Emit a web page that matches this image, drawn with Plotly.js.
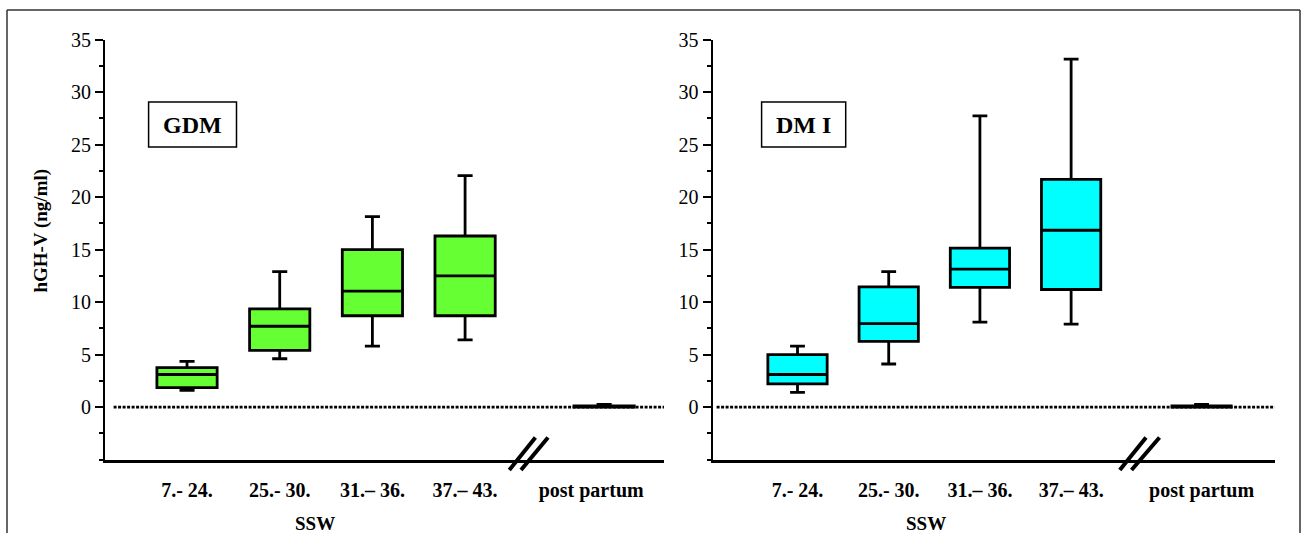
<!DOCTYPE html>
<html><head><meta charset="utf-8">
<script src="https://cdn.plot.ly/plotly-3.0.1.min.js"></script>
<style>html,body{margin:0;padding:0;background:#fff}#chart{width:1303px;height:533px}</style>
</head><body><div id="chart"></div>
<script>
// ---- data ----
const categories = ['7.- 24.', '25.- 30.', '31.\u2013 36.', '37.\u2013 43.', 'post partum'];
// GDM panel
const gdmLower  = [1.6, 4.6, 5.8, 6.4, 0];
const gdmQ1     = [1.85, 5.4, 8.7, 8.7, 0];
const gdmMedian = [3.1, 7.7, 11.05, 12.5, 0.05];
const gdmQ3     = [3.75, 9.35, 15.0, 16.3, 0.1];
const gdmUpper  = [4.35, 12.9, 18.15, 22.05, 0.25];
// DM I panel
const dmLower  = [1.4, 4.1, 8.1, 7.9, 0];
const dmQ1     = [2.2, 6.25, 11.4, 11.2, 0];
const dmMedian = [3.1, 7.95, 13.15, 16.85, 0.05];
const dmQ3     = [5.0, 11.45, 15.15, 21.7, 0.1];
const dmUpper  = [5.8, 12.9, 27.75, 33.15, 0.25];
const yTicks = [0, 5, 10, 15, 20, 25, 30, 35];
const panelLabels = ['GDM', 'DM I'];
const xTitle = 'SSW';
const yTitle = 'hGH-V (ng/ml)';

// ---- layout helpers ----
const W = 1303, H = 533;
const px = v => v / W, py = v => 1 - v / H;
const FONT = 'Liberation Serif, Times New Roman, serif';
const posL = [1, 2, 3, 4, 5.5], tickL = [1, 2, 3, 4, 5.36];
const posR = [1, 2, 3, 4, 5.43], tickR = [1, 2, 3, 4, 5.43];

function boxTrace(pos, lo, q1, med, q3, hi, color, xa, ya) {
  return {
    type: 'box', x: pos, lowerfence: lo, q1: q1, median: med, q3: q3, upperfence: hi,
    boxpoints: false, fillcolor: color, line: {color: '#000', width: 2.8},
    width: 0.65, whiskerwidth: 0.25, xaxis: xa, yaxis: ya, hoverinfo: 'skip', showlegend: false
  };
}
const data = [
  boxTrace(posL, gdmLower, gdmQ1, gdmMedian, gdmQ3, gdmUpper, '#66FF33', 'x', 'y'),
  boxTrace(posR, dmLower, dmQ1, dmMedian, dmQ3, dmUpper, '#00FFFF', 'x2', 'y2')
];

const yDom = [py(459.5), py(39.8)];
function yAxis(anchor) {
  return {
    domain: yDom, range: [-5, 35], anchor: anchor, showgrid: false, zeroline: false,
    showline: true, linecolor: '#000', linewidth: 2,
    tickmode: 'array', tickvals: yTicks, ticktext: yTicks.map(String),
    ticks: 'outside', ticklen: 8, tickwidth: 2, tickcolor: '#000',
    minor: {tickmode: 'linear', tick0: 0, dtick: 2.5, ticks: 'outside', ticklen: 4, tickwidth: 2, tickcolor: '#000'},
    tickfont: {family: FONT, size: 20, color: '#000'}, fixedrange: true
  };
}
function xAxis(domain, range, ticks, anchor) {
  return {
    domain: domain, range: range, anchor: anchor, showgrid: false, zeroline: false,
    showline: true, linecolor: '#000', linewidth: 3,
    tickmode: 'array', tickvals: ticks, ticktext: categories, ticks: '',
    ticklabelstandoff: 10,
    tickfont: {family: FONT, size: 20, color: '#000', weight: 700}, fixedrange: true
  };
}

const shapes = [];
// zero dotted lines
shapes.push({type: 'line', xref: 'paper', yref: 'y', x0: px(113.6), x1: px(664), y0: 0, y1: 0,
  line: {color: '#000', width: 2.8, dash: '3px,1.5px'}, layer: 'below'});
shapes.push({type: 'line', xref: 'paper', yref: 'y2', x0: px(716.6), x1: px(1274.7), y0: 0, y1: 0,
  line: {color: '#000', width: 2.8, dash: '3px,1.5px'}, layer: 'below'});
// axis break marks
[[509.3, 535.4], [521, 548], [1119.8, 1146], [1131.5, 1159.5]].forEach(([a, b]) => {
  shapes.push({type: 'line', xref: 'paper', yref: 'paper', x0: px(a), y0: py(470), x1: px(b), y1: py(437.5),
    line: {color: '#000', width: 4}});
});
// panel label boxes
shapes.push({type: 'rect', xref: 'paper', yref: 'paper', x0: px(148.6), x1: px(236.5), y0: py(147), y1: py(102),
  line: {color: '#000', width: 1.5}, fillcolor: '#fff'});
shapes.push({type: 'rect', xref: 'paper', yref: 'paper', x0: px(761.6), x1: px(845.7), y0: py(147), y1: py(102),
  line: {color: '#000', width: 1.5}, fillcolor: '#fff'});
// outer frame
shapes.push({type: 'line', xref: 'paper', yref: 'paper', x0: px(7), x1: px(1300), y0: py(10), y1: py(10), line: {color: '#333', width: 1.5}});
shapes.push({type: 'line', xref: 'paper', yref: 'paper', x0: px(7), x1: px(7), y0: py(10), y1: 0, line: {color: '#333', width: 1.5}});
shapes.push({type: 'line', xref: 'paper', yref: 'paper', x0: px(1300), x1: px(1300), y0: py(10), y1: 0, line: {color: '#333', width: 1.5}});

const bold = (size) => ({family: FONT, size: size, color: '#000', weight: 700});
const ann = (text, x, y, size, extra) => Object.assign({text: text, xref: 'paper', yref: 'paper', x: px(x), y: py(y),
  xanchor: 'center', yanchor: 'middle', showarrow: false, font: bold(size)}, extra || {});
const annotations = [
  ann(panelLabels[0], 192.5, 124.5, 24),
  ann(panelLabels[1], 803.7, 124.5, 24),
  ann(yTitle, 40.6, 231, 19, {textangle: -90}),
  ann(xTitle, 315, 523, 19),
  ann(xTitle, 926, 523, 19)
];

const layout = {
  width: W, height: H, margin: {l: 0, r: 0, t: 0, b: 0},
  paper_bgcolor: '#fff', plot_bgcolor: 'rgba(0,0,0,0)', showlegend: false,
  xaxis: xAxis([px(105), px(664)], [0.115, 6.146], tickL, 'y'),
  yaxis: yAxis('x'),
  xaxis2: xAxis([px(712.5), px(1274.7)], [0.068, 6.232], tickR, 'y2'),
  yaxis2: yAxis('x2'),
  shapes: shapes, annotations: annotations
};
Plotly.newPlot('chart', data, layout, {displayModeBar: false, staticPlot: true});
</script></body></html>
